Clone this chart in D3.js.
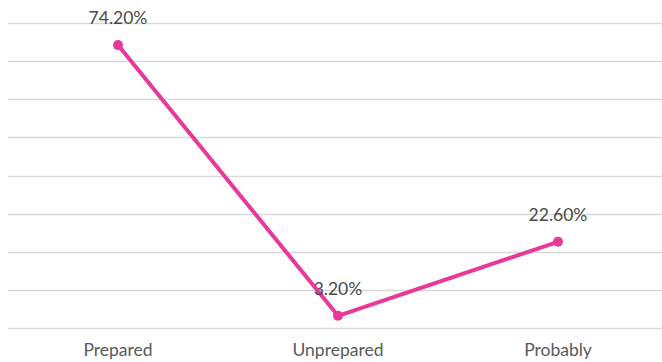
<!DOCTYPE html>
<html><head><meta charset="utf-8">
<script src="https://cdn.jsdelivr.net/npm/d3@7"></script>
<style>body{margin:0;background:#fff}svg{display:block}</style>
</head><body>
<script>
const categories = ["Prepared", "Unprepared", "Probably"];
const values = [74.2, 3.2, 22.6];
const valueLabels = ["74.20%", "3.20%", "22.60%"];
const yTicks = [0, 10, 20, 30, 40, 50, 60, 70, 80];

const W = 662, H = 362;
const m = {left: 8, right: -6, top: 23, bottom: 34};
const svg = d3.select("body").append("svg").attr("width", W).attr("height", H);
const x = d3.scaleBand().domain(categories).range([m.left, W - m.right]);
const y = d3.scaleLinear().domain([0, 80]).range([H - m.bottom, m.top]);
const font = "Lato, 'Open Sans', sans-serif";

svg.append("g").selectAll("line").data(yTicks).join("line")
  .attr("x1", m.left).attr("x2", W - m.right)
  .attr("y1", d => Math.round(y(d)) + 0.5).attr("y2", d => Math.round(y(d)) + 0.5)
  .attr("stroke", "#d9d9d9").attr("stroke-width", 1.3);

const cx = d => x(d) + x.bandwidth() / 2;
const pts = categories.map((c, i) => [cx(c), y(values[i])]);

svg.append("path").attr("d", d3.line()(pts)).attr("fill", "none")
  .attr("stroke", "#e8399a").attr("stroke-width", 4).attr("stroke-linejoin", "round");
svg.append("g").selectAll("circle").data(pts).join("circle")
  .attr("cx", d => d[0]).attr("cy", d => d[1]).attr("r", 5).attr("fill", "#e8399a");

svg.append("g").selectAll("text").data(pts).join("text")
  .attr("x", d => d[0]).attr("y", d => d[1] - 21)
  .attr("text-anchor", "middle").attr("font-family", font).attr("font-size", 17.5)
  .attr("fill", "#4a4a4a").text((d, i) => valueLabels[i]);

svg.append("g").selectAll("text").data(categories).join("text")
  .attr("x", d => cx(d)).attr("y", H - 6)
  .attr("text-anchor", "middle").attr("font-family", font).attr("font-size", 17.5)
  .attr("fill", "#595959").text(d => d);
</script>
</body></html>
